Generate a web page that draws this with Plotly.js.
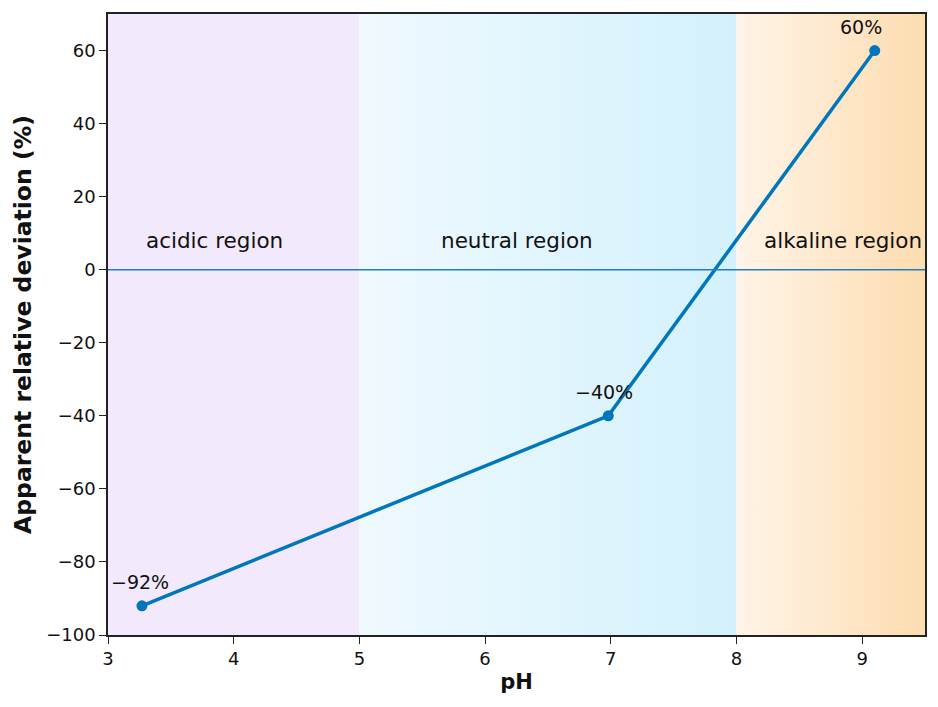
<!DOCTYPE html>
<html>
<head>
<meta charset="utf-8">
<script src="https://cdn.plot.ly/plotly-3.0.1.min.js"></script>
<style>
  html, body { margin: 0; padding: 0; background: #fff; }
  #myDiv { width: 938px; height: 707px; }
</style>
</head>
<body>
<div id="myDiv"></div>
<script>
var ph = [3.27, 6.98, 9.1];
var deviation = [-92, -40, 60];
var regionNames = ['acidic region', 'neutral region', 'alkaline region'];
var regionStart = [3, 5, 8];
var regionEnd = [5, 8, 9.5];
var regionLabelX = [3.85, 6.25, 8.85];
var regionColors = [
  ['#f3e9fc', '#f3e9fc'],
  ['#eff9fe', '#d3f1fc'],
  ['#fff4e8', '#fddcb0']
];

var yMin = -100, yMax = 70;
var blue = '#0077bb';
var font = 'DejaVu Sans, sans-serif';

var data = [];
for (var i = 0; i < regionNames.length; i++) {
  data.push({
    x: [regionStart[i], regionEnd[i], regionEnd[i], regionStart[i], regionStart[i]],
    y: [yMin, yMin, yMax, yMax, yMin],
    type: 'scatter',
    mode: 'none',
    fill: 'toself',
    fillcolor: regionColors[i][0],
    fillgradient: {
      type: 'horizontal',
      colorscale: [[0, regionColors[i][0]], [1, regionColors[i][1]]]
    },
    hoverinfo: 'skip',
    showlegend: false
  });
}

data.push({
  x: ph,
  y: deviation,
  type: 'scatter',
  mode: 'lines+markers',
  line: {color: blue, width: 3.5},
  marker: {color: blue, size: 11},
  showlegend: false
});

// label nudges, roughly as in the original figure
var labelShift = [-2, -4, -14];

var annotations = [];
for (var j = 0; j < ph.length; j++) {
  annotations.push({
    x: ph[j],
    y: deviation[j],
    xref: 'x',
    yref: 'y',
    text: String(deviation[j]).replace('-', '\u2212') + '%',
    showarrow: false,
    xshift: labelShift[j],
    yshift: 24,
    font: {family: font, size: 19, color: '#111'}
  });
}
for (var k = 0; k < regionNames.length; k++) {
  annotations.push({
    x: regionLabelX[k],
    y: 8,
    xref: 'x',
    yref: 'y',
    text: regionNames[k],
    showarrow: false,
    font: {family: font, size: 21.5, color: '#111'}
  });
}

var layout = {
  width: 938,
  height: 707,
  margin: {l: 108, r: 13, t: 14, b: 72},
  paper_bgcolor: '#fff',
  plot_bgcolor: '#fff',
  font: {family: font, size: 18, color: '#111'},
  xaxis: {
    range: [3, 9.5],
    dtick: 1,
    showgrid: false,
    zeroline: false,
    showline: true,
    mirror: true,
    linecolor: '#222',
    linewidth: 1.5,
    ticks: 'outside',
    ticklen: 7,
    tickcolor: '#222',
    tickfont: {family: font, size: 18, color: '#111'},
    title: {text: '<b>pH</b>', font: {family: font, size: 21, color: '#111'}, standoff: 6}
  },
  yaxis: {
    range: [yMin, yMax],
    tickvals: [-100, -80, -60, -40, -20, 0, 20, 40, 60],
    ticktext: ['\u2212100', '\u221280', '\u221260', '\u221240', '\u221220', '0', '20', '40', '60'],
    showgrid: false,
    zeroline: false,
    showline: true,
    mirror: true,
    linecolor: '#222',
    linewidth: 1.5,
    ticks: 'outside',
    ticklen: 7,
    tickcolor: '#222',
    tickfont: {family: font, size: 18, color: '#111'},
    title: {text: '<b>Apparent relative deviation (%)</b>', font: {family: font, size: 23.5, color: '#111'}, standoff: 8}
  },
  shapes: [{
    type: 'line',
    xref: 'paper',
    yref: 'y',
    x0: 0, x1: 1,
    y0: 0, y1: 0,
    line: {color: '#1f7fbf', width: 1.5},
    layer: 'above'
  }],
  annotations: annotations
};

Plotly.newPlot('myDiv', data, layout, {displayModeBar: false});
</script>
</body>
</html>
